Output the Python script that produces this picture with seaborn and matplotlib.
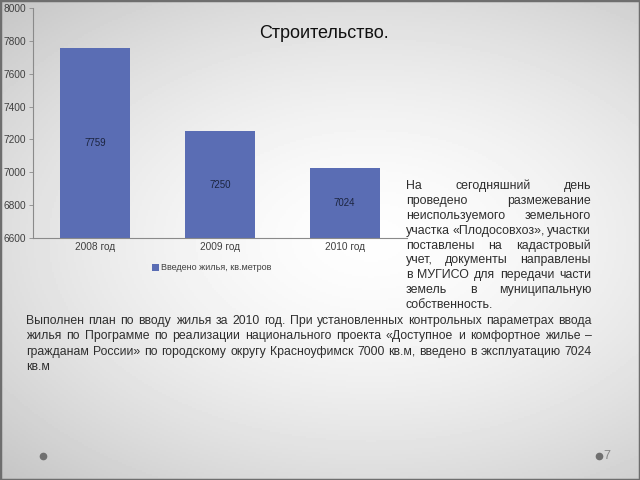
import numpy as np
import pandas as pd
import matplotlib
matplotlib.use("Agg")
import matplotlib.pyplot as plt
import seaborn as sns
from matplotlib.lines import Line2D
from matplotlib.patches import Rectangle

# ---- data ----
years = ["2008 год", "2009 год", "2010 год"]
values = [7759, 7250, 7024]
series_name = "Введено жилья, кв.метров"
title = "Строительство."
yticks = [6600, 6800, 7000, 7200, 7400, 7600, 7800, 8000]

side_lines = [
    "На сегодняшний день",
    "проведено размежевание",
    "неиспользуемого земельного",
    "участка «Плодосовхоз», участки",
    "поставлены на кадастровый",
    "учет, документы направлены",
    "в МУГИСО для передачи части",
    "земель в муниципальную",
    "собственность.",
]
bottom_lines = [
    "Выполнен план по вводу жилья за 2010 год. При установленных контрольных параметрах ввода",
    "жилья по Программе по реализации национального проекта «Доступное и комфортное жилье –",
    "гражданам России» по городскому округу Красноуфимск 7000 кв.м, введено в эксплуатацию 7024",
    "кв.м",
]
page_no = "7"

df = pd.DataFrame({"year": years, "value": values, "series": series_name})

sns.set_theme(style="white")
plt.rcParams["font.family"] = ["Liberation Sans", "DejaVu Sans"]

W, H = 640, 480
fig = plt.figure(figsize=(6.4, 4.8), dpi=100)

# background gradient
bg = fig.add_axes([0, 0, 1, 1], zorder=-5)
yy, xx = np.mgrid[0:1:240j, 0:1:320j]
d = np.sqrt(((xx - 0.58) / 0.9) ** 2 + ((yy - 0.5) / 0.75) ** 2)
val = 0.995 - 0.16 * np.clip(d / 0.75, 0, 1.3) ** 1.6
bg.imshow(val, cmap="gray", vmin=0, vmax=1, extent=[0, 1, 0, 1], aspect="auto", origin="upper")
bg.set_axis_off()

def fx(px):
    return px / W

def fy(py):
    return 1 - py / H

ax = fig.add_axes([fx(33), fy(238), fx(407) - fx(33), fy(8) - fy(238)])
ax.set_facecolor("none")
bar_color = "#5a6db4"
sns.barplot(data=df, x="year", y="value", hue="series", palette=[bar_color],
            width=0.56, ax=ax, saturation=1, edgecolor="none", linewidth=0)
ax.set_ylim(yticks[0], yticks[-1])
ax.set_yticks(yticks)
ax.set_yticklabels([str(t) for t in yticks], fontsize=7.3, color="#404040")
ax.tick_params(axis="x", labelsize=7.3, labelcolor="#404040", length=0, pad=3)
ax.tick_params(axis="y", length=3, width=0.6, color="#8a8a8a", left=True, pad=2)
ax.set_xlabel("")
ax.set_ylabel("")
for s in ["top", "right"]:
    ax.spines[s].set_visible(False)
for s in ["left", "bottom"]:
    ax.spines[s].set_color("#8a8a8a")
    ax.spines[s].set_linewidth(0.8)

# value labels at the middle of the visible bar
for cont in ax.containers:
    for p in cont.patches:
        cx = p.get_x() + p.get_width() / 2
        cy = (yticks[0] + p.get_height()) / 2
        ax.text(cx, cy, f"{int(round(p.get_height()))}", ha="center", va="center",
                fontsize=7, color="#1c2540")

sns.move_legend(ax, "center", bbox_to_anchor=(fx(212), fy(268)),
                bbox_transform=fig.transFigure, frameon=False, title=None,
                fontsize=6.5, handlelength=0.7, handleheight=0.7, handletextpad=0.3,
                labelcolor="#404040")

fig.text(fx(324), fy(33), title, ha="center", va="center", fontsize=13, color="#111111")

renderer = fig.canvas.get_renderer()

def justify(lines, x0, x1, y0, dy, fs, color):
    sp = fig.text(0, 0, "a a", fontsize=fs)
    sa = fig.text(0, 0, "aa", fontsize=fs)
    space = sp.get_window_extent(renderer).width - sa.get_window_extent(renderer).width
    sp.remove(); sa.remove()
    for i, line in enumerate(lines):
        words = line.split()
        widths = []
        for w in words:
            t = fig.text(0, 0, w, fontsize=fs)
            widths.append(t.get_window_extent(renderer).width)
            t.remove()
        y = fy(y0 + i * dy)
        if i == len(lines) - 1 or len(words) == 1:
            gap = space
        else:
            gap = max(((x1 - x0) - sum(widths)) / (len(words) - 1), space * 0.6)
        x = x0
        for w, wd in zip(words, widths):
            fig.text(fx(x), y, w, fontsize=fs, color=color, ha="left", va="center")
            x += wd + gap

justify(side_lines, 406, 591, 186, 14.9, 8.9, "#2e2e2e")
justify(bottom_lines, 26, 592, 321, 15.4, 8.8, "#2e2e2e")

# slide decorations
fig.add_artist(Line2D([fx(43)], [fy(456)], marker="o", markersize=4.5, color="#707070",
                      transform=fig.transFigure))
fig.add_artist(Line2D([fx(599)], [fy(456)], marker="o", markersize=4.5, color="#707070",
                      transform=fig.transFigure))
fig.text(fx(603), fy(456), page_no, fontsize=9, color="#888888", ha="left", va="center")
fig.add_artist(Rectangle((0, 0), 1, 1, transform=fig.transFigure, fill=False,
                         edgecolor="#6e6e6e", linewidth=2.5))

fig.savefig("out.png", dpi=100)
